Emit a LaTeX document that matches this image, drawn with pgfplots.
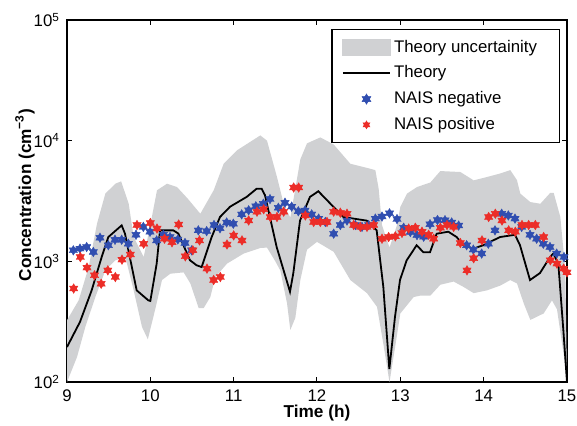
\documentclass[border=0pt]{standalone}
\usepackage{pgfplots}
\pgfplotsset{compat=1.18}
\usepackage{fontspec}
\setmainfont{Liberation Sans}
\definecolor{bandgray}{RGB}{208,209,211}
\definecolor{naisblue}{RGB}{48,78,176}
\definecolor{naisred}{RGB}{236,45,40}
\pgfdeclareplotmark{hexagram}{%
  \pgfpathmoveto{\pgfqpointpolar{90}{\pgfplotmarksize}}%
  \pgfpathlineto{\pgfqpointpolar{210}{\pgfplotmarksize}}%
  \pgfpathlineto{\pgfqpointpolar{330}{\pgfplotmarksize}}%
  \pgfpathclose
  \pgfpathmoveto{\pgfqpointpolar{270}{\pgfplotmarksize}}%
  \pgfpathlineto{\pgfqpointpolar{30}{\pgfplotmarksize}}%
  \pgfpathlineto{\pgfqpointpolar{150}{\pgfplotmarksize}}%
  \pgfpathclose
  \pgfusepathqfillstroke}
\begin{document}
\begin{tikzpicture}
\useasboundingbox (-33.5pt,-21.5pt) rectangle (255pt,191pt);
\begin{axis}[
  at={(0,0)}, anchor=south west,
  scale only axis, width=250pt, height=181pt,
  xmin=9, xmax=15, ymin=100, ymax=100000,
  ymode=log, yminorticks=false,
  xtick={9,10,11,12,13,14,15},
  xticklabels={9,10,11,12,13,14,15},
  ytick={100,1000,10000,100000},
  yticklabels={10\textsuperscript{2},10\textsuperscript{3},10\textsuperscript{4},10\textsuperscript{5}},
  tick align=inside, major tick length=2.3pt,
  every tick/.style={black, line width=0.5pt},
  axis line style={line width=0.9pt},
  tick label style={font=\fontsize{8.4}{10}\selectfont},
  xticklabel style={yshift=-0.5pt},
  xlabel={\textbf{Time (h)}},
  ylabel={\textbf{Concentration (cm\textsuperscript{−3})}},
  label style={font=\fontsize{8.6}{10}\selectfont},
  every axis x label/.append style={at={(axis description cs:0.5,-0.0856)}, anchor=center},
  every axis y label/.append style={at={(axis description cs:-0.084,0.517)}, anchor=center, rotate=0},
  legend style={at={(axis description cs:0.986,0.975)}, anchor=north east,
    draw=black, line width=0.7pt, fill=white,
    font=\fontsize{8.4}{10}\selectfont,
    inner xsep=5pt, inner ysep=3.5pt, row sep=2.1pt,
    nodes={inner sep=1.6pt}},
  legend cell align=left,
  clip=true,
]
\addplot[fill=bandgray, draw=none, forget plot] coordinates {
(9.0,325)(9.14,475)(9.26,897)(9.36,2050)(9.46,3640)(9.58,4400)(9.65,4600)(9.74,3010)(9.80,1590)(9.92,1085)(10.0,2000)(10.08,3880)(10.2,4400)(10.32,4130)(10.45,3300)(10.6,2480)(10.76,3880)(10.88,6440)(11.04,8320)(11.32,11060)(11.40,10000)(11.52,4990)(11.6,3000)(11.68,2300)(11.8,7000)(11.88,9500)(12.04,10640)(12.2,9300)(12.4,6440)(12.6,5950)(12.70,5700)(12.74,4000)(12.78,2000)(12.87,1300)(12.96,2000)(13.0,2830)(13.08,3640)(13.2,4130)(13.36,4500)(13.48,5600)(13.72,5500)(13.88,4690)(14.04,5000)(14.2,5350)(14.32,5700)(14.4,4700)(14.44,3640)(14.56,3100)(14.68,3000)(14.8,3700)(14.84,3700)(14.92,2330)(14.98,840)(15.0,100)
(15.0,100)(14.96,170)(14.88,400)(14.82,475)(14.72,370)(14.56,327)(14.48,450)(14.40,656)(14.32,700)(14.2,630)(14.04,575)(13.88,545)(13.76,613)(13.64,680)(13.48,640)(13.36,520)(13.24,520)(13.16,506)(13.0,370)(12.94,200)(12.87,100)(12.80,200)(12.72,420)(12.6,545)(12.4,700)(12.2,1200)(12.0,1450)(11.88,1250)(11.80,700)(11.74,340)(11.68,270)(11.64,450)(11.56,840)(11.50,1000)(11.40,1300)(11.32,1290)(11.12,1160)(10.92,957)(10.78,740)(10.72,506)(10.64,410)(10.58,410)(10.48,656)(10.40,810)(10.24,790)(10.14,700)(10.06,404)(9.97,226)(9.90,286)(9.80,575)(9.70,1085)(9.58,1020)(9.46,842)(9.34,506)(9.22,286)(9.12,161)(9.0,100)
} -- cycle;
\addlegendimage{legend image code/.code={\fill[bandgray] (0pt,-4pt) rectangle (23.5pt,4pt);}}
\addlegendentry{\makebox[76pt][l]{Theory uncertainity}}
\addplot[black, line width=0.9pt,
  legend image code/.code={\draw[black, line width=0.9pt] (0pt,0pt) -- (23.5pt,0pt);}] coordinates {
(9.0,195)(9.156,315)(9.296,575)(9.416,1085)(9.496,1590)(9.656,1987)(9.696,1695)(9.836,575)(9.976,475)(10.0,470)(10.076,957)(10.116,1806)(10.276,1806)(10.336,1700)(10.476,1020)(10.556,927)(10.616,897)(10.736,1590)(10.836,2330)(10.956,2834)(11.156,3420)(11.276,4000)(11.336,4000)(11.376,3530)(11.516,1314)(11.676,560)(11.716,800)(11.796,2175)(11.916,3420)(12.016,3810)(12.316,2330)(12.596,2175)(12.716,1806)(12.796,613)(12.868,128)(12.936,347)(12.996,700)(13.076,1020)(13.196,1360)(13.276,1190)(13.356,1190)(13.436,1695)(13.576,1760)(13.676,1590)(13.756,1360)(13.876,1275)(13.996,1360)(14.196,1590)(14.376,1660)(14.436,1360)(14.556,700)(14.676,800)(14.796,1085)(14.836,1160)(14.896,957)(14.956,270)(15.0,100)
};
\addlegendentry{Theory}
\addplot[only marks, mark=hexagram, mark size=2.4pt, mark options={fill=naisblue, draw=naisblue, line width=0.2pt},
  legend image code/.code={\draw[only marks, mark=hexagram, mark size=2.6pt, mark options={fill=naisblue, draw=naisblue, line width=0.2pt}] plot coordinates {(11.75pt,0pt)};}] coordinates {
(9.076,1234)(9.156,1275)(9.236,1314)(9.316,1195)(9.396,1570)(9.496,1360)(9.576,1510)(9.656,1510)(9.736,1400)(9.828,1660)(9.916,1930)(9.996,1760)(10.076,1490)(10.156,1660)(10.236,1590)(10.33,1520)(10.416,1420)(10.496,1234)(10.576,1806)(10.676,1780)(10.764,2000)(10.836,1880)(10.916,2100)(10.996,2050)(11.096,2450)(11.18,2650)(11.266,2860)(11.356,3000)(11.436,3280)(11.536,2780)(11.616,3060)(11.696,2840)(11.776,2600)(11.856,2640)(11.936,2450)(12.02,2260)(12.10,2120)(12.20,1695)(12.28,2000)(12.36,2180)(12.46,2000)(12.54,1930)(12.62,2000)(12.70,2260)(12.78,2350)(12.87,2500)(12.96,2240)(13.04,1900)(13.12,1750)(13.20,1650)(13.28,1600)(13.356,2030)(13.446,2200)(13.536,2190)(13.616,2100)(13.70,1980)(13.796,1360)(13.876,1250)(13.976,1160)(14.056,1400)(14.136,1806)(14.216,2480)(14.296,2400)(14.376,2260)(14.456,1930)(14.556,1660)(14.636,1540)(14.716,1400)(14.796,1314)(14.876,1160)(14.964,1085)
};
\addlegendentry{NAIS negative}
\addplot[only marks, mark=hexagram, mark size=2.4pt, mark options={fill=naisred, draw=naisred, line width=0.2pt},
  legend image code/.code={\draw[only marks, mark=hexagram, mark size=2.0pt, mark options={fill=naisred, draw=naisred, line width=0.2pt}] plot coordinates {(11.75pt,0pt)};}] coordinates {
(9.08,595)(9.16,1085)(9.24,887)(9.33,766)(9.41,652)(9.49,842)(9.58,741)(9.66,1033)(9.76,1140)(9.84,2000)(9.92,1400)(10.0,2080)(10.08,1870)(10.17,1540)(10.26,1440)(10.34,2020)(10.42,1100)(10.51,1234)(10.59,1490)(10.68,870)(10.76,700)(10.84,741)(10.92,1380)(11.0,1640)(11.10,1490)(11.18,2180)(11.28,2580)(11.36,2700)(11.44,2330)(11.52,2330)(11.60,2580)(11.72,4090)(11.78,4090)(11.86,2400)(11.96,2120)(12.04,2120)(12.12,2120)(12.20,2580)(12.28,2530)(12.36,2480)(12.44,2000)(12.52,1930)(12.60,1930)(12.68,2000)(12.78,1540)(12.86,1590)(12.94,1610)(13.02,1720)(13.10,1870)(13.18,1900)(13.26,1760)(13.34,1660)(13.40,1540)(13.48,1900)(13.56,2000)(13.64,1930)(13.72,1420)(13.80,842)(13.88,1060)(13.98,1490)(14.06,2330)(14.14,2480)(14.22,2180)(14.30,1806)(14.38,1760)(14.46,2000)(14.54,2000)(14.62,2000)(14.72,1590)(14.80,1020)(14.88,957)(14.96,870)(15.0,810)
};
\addlegendentry{NAIS positive}
\end{axis}
\end{tikzpicture}
\end{document}
